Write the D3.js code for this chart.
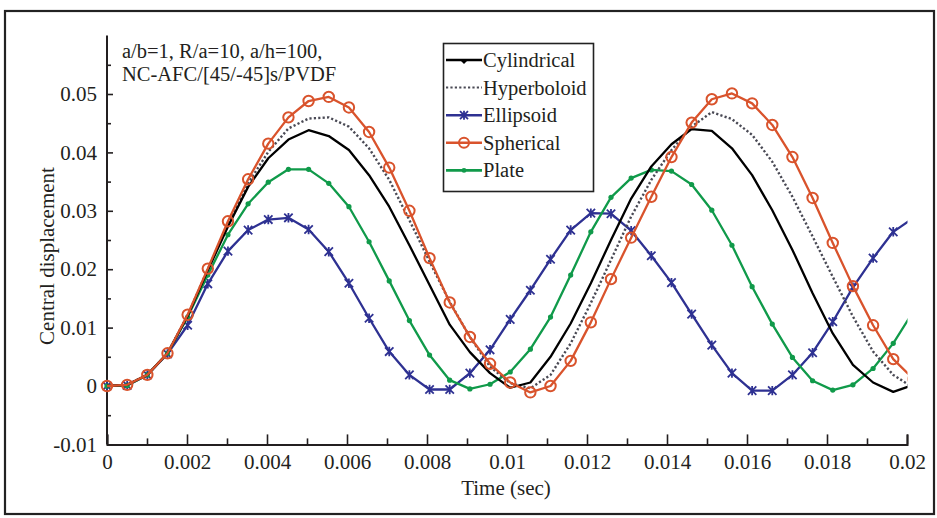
<!DOCTYPE html>
<html><head><meta charset="utf-8">
<script src="https://cdn.jsdelivr.net/npm/d3@7/dist/d3.min.js"></script>
<style>
body{margin:0;background:#fff}
text{font-family:"Liberation Serif","Times New Roman",serif;fill:#231f20}
</style>
</head><body>
<svg id="chart" width="937" height="518"></svg>
<script>
// ---- data ----
const times = [0,0.000504,0.001008,0.001512,0.002016,0.00252,0.003024,0.003528,0.004032,0.004536,
  0.00504,0.005544,0.006048,0.006552,0.007056,0.00756,0.008064,0.008568,0.009072,0.009576,
  0.01008,0.010584,0.011088,0.011592,0.012096,0.0126,0.013104,0.013608,0.014112,0.014616,
  0.01512,0.015624,0.016128,0.016632,0.017136,0.01764,0.018144,0.018648,0.019152,0.019656,0.02016];
const cylindrical = [0,0.0002,0.0019,0.0056,0.0120,0.0198,0.0273,0.0341,0.0390,0.0422,
  0.0438,0.0428,0.0404,0.0361,0.0307,0.0241,0.0173,0.0105,0.0058,0.0022,
  -0.0003,0.0006,0.0050,0.0107,0.0176,0.0250,0.0321,0.0376,0.0414,0.0440,
  0.0437,0.0407,0.0361,0.0301,0.0233,0.0159,0.0090,0.0036,0.0006,-0.0010,0.0002];
const hyperboloid = [0,0.0002,0.0019,0.0056,0.0121,0.0200,0.0277,0.0347,0.0401,0.0441,
  0.0458,0.0460,0.0444,0.0407,0.0353,0.0284,0.0213,0.0144,0.0084,0.0033,
  0.0005,-0.0004,0.0019,0.0073,0.0142,0.0216,0.0290,0.0353,0.0404,0.0444,
  0.0469,0.0457,0.0430,0.0384,0.0324,0.0256,0.0187,0.0119,0.0059,0.0019,-0.0003];
const ellipsoid = [0,0.0001,0.0019,0.0055,0.0104,0.0175,0.0231,0.0267,0.0285,0.0288,
  0.0268,0.0230,0.0176,0.0116,0.0059,0.0019,-0.0006,-0.0006,0.0022,0.0062,
  0.0114,0.0164,0.0217,0.0267,0.0296,0.0295,0.0266,0.0223,0.0177,0.0123,
  0.0070,0.0022,-0.0008,-0.0008,0.0019,0.0057,0.0110,0.0169,0.0219,0.0264,0.0288];
const spherical = [0,0.0002,0.0019,0.0056,0.0122,0.0201,0.0282,0.0354,0.0415,0.0460,
  0.0488,0.0495,0.0477,0.0435,0.0374,0.0300,0.0219,0.0143,0.0084,0.0038,
  0.0006,-0.0011,0.0000,0.0043,0.0109,0.0183,0.0254,0.0324,0.0392,0.0451,
  0.0491,0.0501,0.0484,0.0447,0.0392,0.0322,0.0245,0.0171,0.0104,0.0046,0.0012];
const plate = [0,0.0001,0.0019,0.0056,0.0118,0.0190,0.0259,0.0312,0.0349,0.0371,
  0.0371,0.0347,0.0307,0.0247,0.0180,0.0112,0.0053,0.0010,-0.0005,0.0003,
  0.0024,0.0063,0.0118,0.0190,0.0264,0.0323,0.0356,0.0370,0.0368,0.0345,
  0.0301,0.0241,0.0170,0.0106,0.0049,0.0009,-0.0007,0.0002,0.0030,0.0073,0.0128];
const seriesNames = ["Cylindrical","Hyperboloid","Ellipsoid","Spherical","Plate"];
const xTicks = [0,0.002,0.004,0.006,0.008,0.01,0.012,0.014,0.016,0.018,0.02];
const xTickLabels = ["0","0.002","0.004","0.006","0.008","0.01","0.012","0.014","0.016","0.018","0.02"];
const xMinorTicks = [0.001,0.003,0.005,0.007,0.009,0.011,0.013,0.015,0.017,0.019];
const yTicks = [-0.01,0,0.01,0.02,0.03,0.04,0.05];
const yTickLabels = ["-0.01","0","0.01","0.02","0.03","0.04","0.05"];
const yMinorTicks = [-0.005,0.005,0.015,0.025,0.035,0.045,0.055];
const xTitle = "Time (sec)";
const yTitle = "Central displacement";
const noteLines = ["a/b=1, R/a=10, a/h=100,","NC-AFC/[45/-45]s/PVDF"];

// ---- drawing ----
const svg = d3.select("#chart");
const x = d3.scaleLinear().domain([0,0.02]).range([107,907]);
const y = d3.scaleLinear().domain([-0.01,0.06]).range([444.4,35.6]);
const ink = "#231f20";

svg.append("rect").attr("x",5).attr("y",11).attr("width",929).attr("height",503)
  .attr("fill","none").attr("stroke","#222").attr("stroke-width",2.2);

const styles = {
  Cylindrical:{color:"#000000",dash:null,marker:"none"},
  Hyperboloid:{color:"#4a4a55",dash:"2.2,2.2",marker:"none"},
  Ellipsoid:{color:"#2e3192",dash:null,marker:"x"},
  Spherical:{color:"#d9532c",dash:null,marker:"circle"},
  Plate:{color:"#109a4a",dash:null,marker:"dot"}
};
const seriesData = {Cylindrical:cylindrical,Hyperboloid:hyperboloid,Ellipsoid:ellipsoid,Spherical:spherical,Plate:plate};

svg.append("defs").append("clipPath").attr("id","clip")
  .append("rect").attr("x",80).attr("y",20).attr("width",907.5-80).attr("height",440);

// axes
const xAxis = d3.axisBottom(x).tickValues(xTicks).tickSize(-10).tickPadding(10)
  .tickFormat((d,i)=>xTickLabels[i]);
const gx = svg.append("g").attr("transform",`translate(0,${y(-0.01)})`).call(xAxis);
const gxm = svg.append("g").attr("transform",`translate(0,${y(-0.01)})`)
  .call(d3.axisBottom(x).tickValues(xMinorTicks).tickSize(-6).tickFormat(""));
const yAxis = d3.axisLeft(y).tickValues(yTicks).tickSize(-6).tickPadding(10)
  .tickFormat((d,i)=>yTickLabels[i]);
const gy = svg.append("g").attr("transform",`translate(${x(0)},0)`).call(yAxis);
const gym = svg.append("g").attr("transform",`translate(${x(0)},0)`)
  .call(d3.axisLeft(y).tickValues(yMinorTicks).tickSize(-4).tickFormat(""));
[gx,gxm,gy,gym].forEach(g=>{
  g.select(".domain").attr("stroke",ink).attr("stroke-width",2);
  g.selectAll(".tick line").attr("stroke",ink).attr("stroke-width",1.6);
  g.selectAll(".tick text").attr("font-size",21).attr("fill",ink)
    .style("font-family","'Liberation Serif',serif");
});
gxm.select(".domain").remove(); gym.select(".domain").remove();
gy.select(".domain").attr("d",`M0,${y(0.06)}V${y(-0.01)}`);

// titles
svg.append("text").attr("x",506).attr("y",495).attr("text-anchor","middle")
  .attr("font-size",21).text(xTitle);
svg.append("text").attr("transform","translate(54,256) rotate(-90)").attr("text-anchor","middle")
  .attr("font-size",21).text(yTitle);
noteLines.forEach((t,i)=>svg.append("text").attr("x",122).attr("y",58+i*22.5)
  .attr("font-size",20.5).text(t));

// series
const plot = svg.append("g").attr("clip-path","url(#clip)");
const line = d3.line().x((d,i)=>x(times[i])).y(d=>y(d));
function drawMarker(g, kind, cx, cy, color, r){
  if(kind==="circle"){
    g.append("circle").attr("cx",cx).attr("cy",cy).attr("r",r||5.2)
      .attr("fill","none").attr("stroke",color).attr("stroke-width",2);
  } else if(kind==="dot"){
    g.append("circle").attr("cx",cx).attr("cy",cy).attr("r",r||2.6).attr("fill",color);
  } else if(kind==="x"){
    const s = r||4.2;
    g.append("path").attr("d",`M${cx-s},${cy-s}L${cx+s},${cy+s}M${cx-s},${cy+s}L${cx+s},${cy-s}M${cx},${cy-s-0.5}V${cy+s+0.5}`)
      .attr("stroke",color).attr("stroke-width",1.8).attr("fill","none");
  }
}
["Ellipsoid","Plate","Hyperboloid","Cylindrical","Spherical"].forEach(name=>{
  const st = styles[name], vals = seriesData[name];
  plot.append("path").datum(vals).attr("d",line).attr("fill","none")
    .attr("stroke",st.color).attr("stroke-width",name==="Hyperboloid"?2.4:2.3)
    .attr("stroke-dasharray",st.dash).attr("stroke-linejoin","round");
  if(st.marker!=="none"){
    const mg = plot.append("g");
    vals.forEach((v,i)=>drawMarker(mg, st.marker, x(times[i]), y(v), st.color));
  }
});

// legend
const lg = svg.append("g");
lg.append("rect").attr("x",443.5).attr("y",43.5).attr("width",150).attr("height",148)
  .attr("fill","#fff").attr("stroke","#222").attr("stroke-width",1.6);
seriesNames.forEach((name,i)=>{
  const st = styles[name], cy = 60 + i*27.6;
  lg.append("line").attr("x1",446).attr("x2",482).attr("y1",cy).attr("y2",cy)
    .attr("stroke",st.color).attr("stroke-width",name==="Hyperboloid"?2:2.6)
    .attr("stroke-dasharray",st.dash);
  if(name==="Cylindrical") lg.append("path").attr("d",`M460,${cy}l4,4l4,-4z`).attr("fill",st.color);
  if(st.marker!=="none") drawMarker(lg, st.marker, 464, cy, st.color, st.marker==="circle"?5:(st.marker==="dot"?2.4:4));
  lg.append("text").attr("x",483).attr("y",cy+7).attr("font-size",20.5).text(name);
});
</script>
</body></html>
